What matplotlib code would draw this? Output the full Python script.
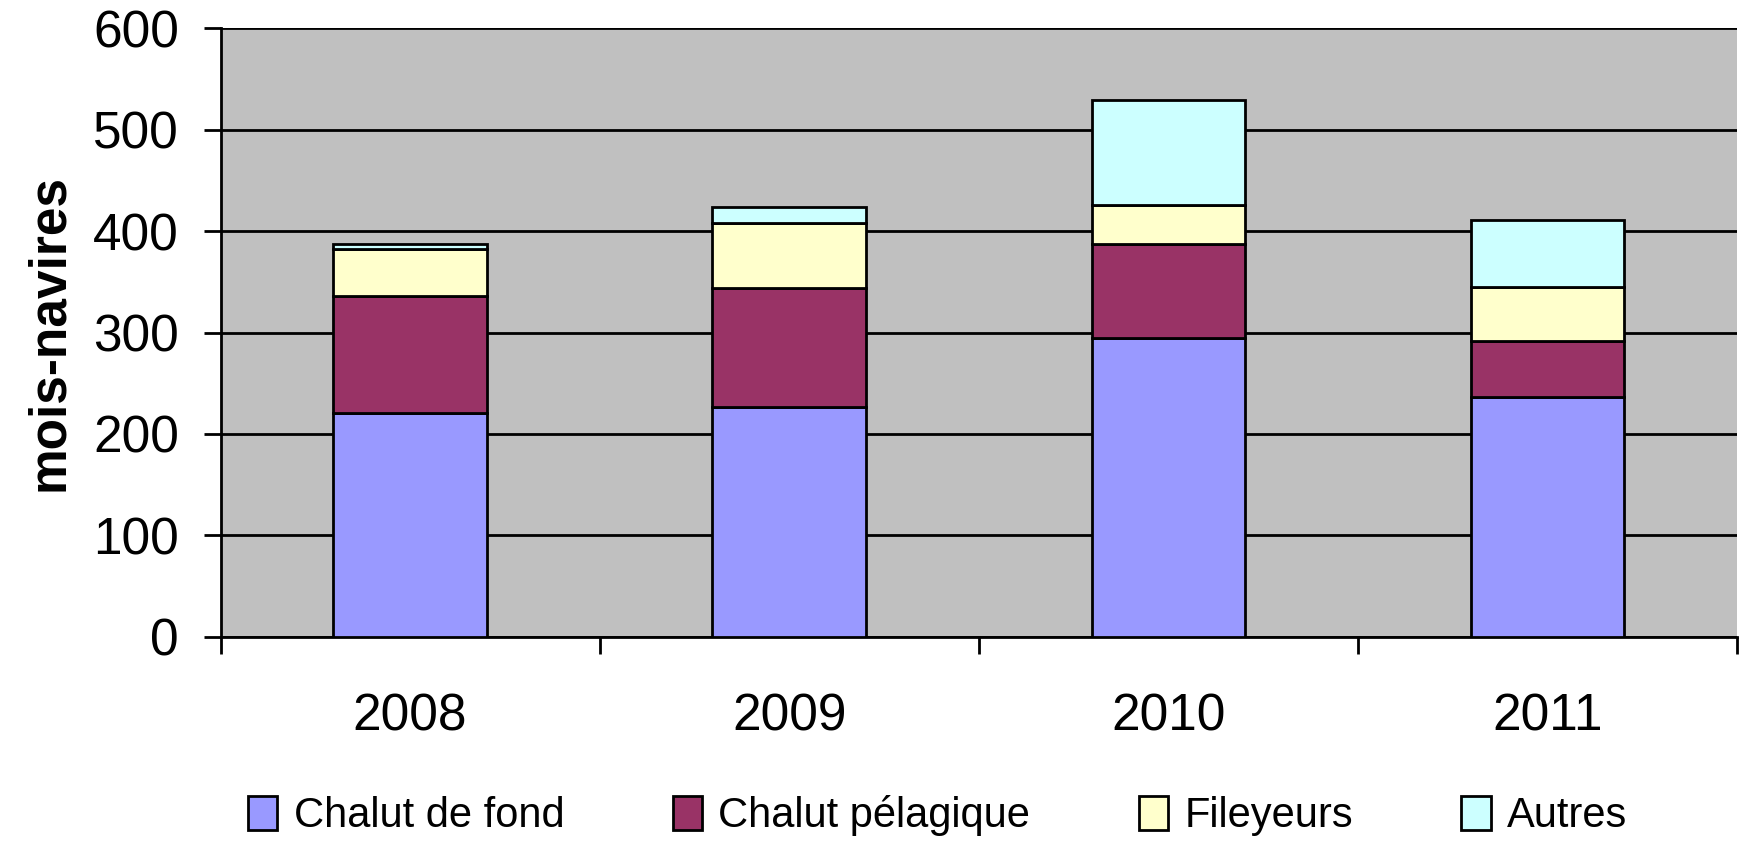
import numpy as np
import matplotlib
matplotlib.use('Agg')
from matplotlib import pyplot as plt

years = ['2008', '2009', '2010', '2011']
series = ['Chalut de fond', 'Chalut pélagique', 'Fileyeurs', 'Autres']
fond = [221, 227, 295, 236]
pelagique = [115, 117, 92, 56]
fileyeurs = [46, 64, 39, 53]
autres = [5, 16, 103, 66]
colors = ['#9999FF', '#993366', '#FFFFCC', '#CCFFFF']

plt.rcParams['font.family'] = ['Liberation Sans', 'DejaVu Sans']

fig = plt.figure(figsize=(17.46, 8.42), dpi=100)
ax = fig.add_axes([0.1263, 0.2435, 0.8685, 0.7232])
ax.set_facecolor('#C0C0C0')

x = np.arange(len(years))
bottom = np.zeros(len(years))
for name, vals, c in zip(series, [fond, pelagique, fileyeurs, autres], colors):
    ax.bar(x, vals, width=0.405, bottom=bottom, color=c, edgecolor='black',
           linewidth=2, label=name, zorder=3)
    bottom += np.array(vals)

ax.set_xlim(-0.5, 3.5)
ax.set_ylim(0, 600)
ax.set_yticks(np.arange(0, 601, 100))
ax.yaxis.grid(True, color='black', linewidth=2, zorder=1)
ax.set_axisbelow(True)

ax.set_xticks(x)
ax.set_xticklabels(years)
ax.set_xticks(np.arange(-0.5, 3.6, 1), minor=True)
ax.tick_params(axis='x', which='major', length=0, pad=40, labelsize=37)
ax.tick_params(axis='x', which='minor', length=12, width=2, direction='out')
ax.tick_params(axis='y', length=12, width=2, direction='out', pad=18, labelsize=37)

for s in ['top', 'right']:
    ax.spines[s].set_visible(False)
for s in ['left', 'bottom']:
    ax.spines[s].set_linewidth(2)

ax.set_ylabel('mois-navires', fontsize=37, fontweight='bold', labelpad=14)

leg = fig.legend(loc='center', bbox_to_anchor=(0.537, 0.031), ncol=4, frameon=False,
                 prop={'size': 30}, handlelength=0.7, handleheight=0.9,
                 handletextpad=0.4, columnspacing=2.6)

fig.savefig('out.png', dpi=100)
